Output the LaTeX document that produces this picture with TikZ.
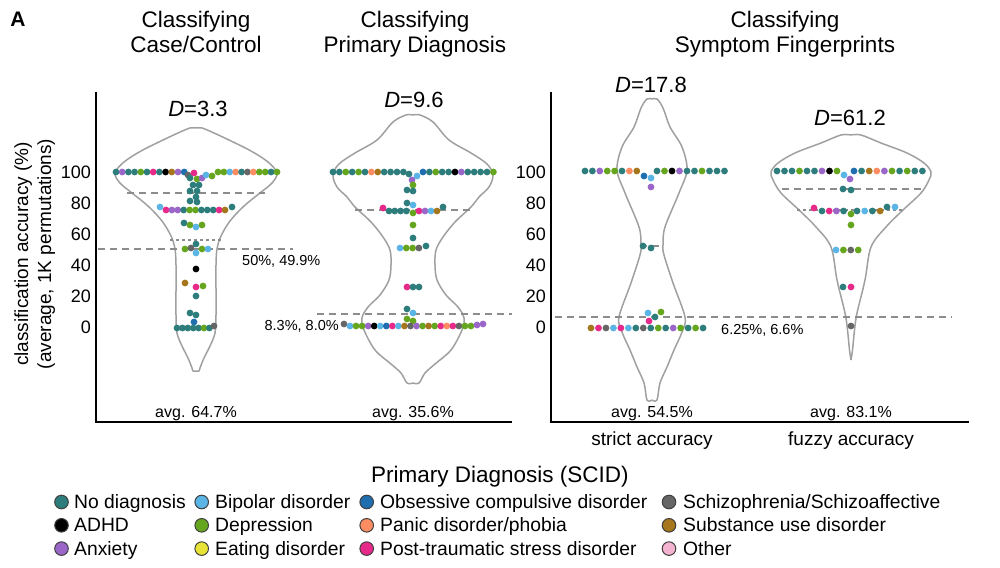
\documentclass[tikz,border=0pt]{standalone}
\usepackage{fontspec}
\setmainfont{Liberation Sans}
\definecolor{ND}{HTML}{2E7D7D}
\definecolor{AD}{HTML}{000000}
\definecolor{AX}{HTML}{9A67C9}
\definecolor{BP}{HTML}{5AB4E5}
\definecolor{DP}{HTML}{66A61E}
\definecolor{EA}{HTML}{E8E337}
\definecolor{OC}{HTML}{1F6EB0}
\definecolor{PN}{HTML}{FC8D62}
\definecolor{PT}{HTML}{E7298A}
\definecolor{SC}{HTML}{666666}
\definecolor{SU}{HTML}{A6761D}
\definecolor{OT}{HTML}{F4B3D0}
\definecolor{vgray}{HTML}{A0A0A0}
\definecolor{dgray}{HTML}{8C8C8C}
\newcommand\fsz[1]{\fontsize{#1}{#1}\selectfont}
\newcommand\drow[4]{\foreach \c [count=\i from 0] in {#4} {\fill[\c] ({#2+\i*#3},#1) circle (3.4pt);}}
\newcommand\dd[3]{\fill[#3] (#1,#2) circle (3.4pt);}
\newcommand\violin[2]{\begin{scope}[shift={(#1,0)}]
\draw[vio] plot[smooth,tension=0.55] coordinates {#2};
\draw[vio,xscale=-1] plot[smooth,tension=0.55] coordinates {#2};
\end{scope}}
\begin{document}
\begin{tikzpicture}[x=1pt,y=-1pt,
  vio/.style={draw=vgray,line width=1.5pt,line join=round},
  dsh/.style={draw=dgray,line width=1.3pt,dash pattern=on 7pt off 5pt},
  dshs/.style={draw=dgray,line width=1.3pt,dash pattern=on 3pt off 3pt},
  axisl/.style={draw=black,line width=2pt},
  ttl/.style={font=\fsz{22.5},anchor=base,inner sep=0pt},
  dlab/.style={font=\fsz{22},anchor=base,inner sep=0pt},
  tick/.style={font=\fsz{18},anchor=east,inner sep=0pt},
  avg/.style={font=\fsz{16},anchor=base,inner sep=0pt},
  chance/.style={font=\fsz{14.5},inner sep=0pt},
  ylab/.style={font=\fsz{19},anchor=base,rotate=90,inner sep=0pt},
  leg/.style={font=\fsz{19.3},anchor=base west,inner sep=0pt},
  legc/.style={draw=black!75,line width=1pt},
]
\useasboundingbox (0,0) rectangle (1000,567);

% panel letter and titles
\node[font=\fsz{21}\bfseries,inner sep=0pt] (A) at (18,19) {A};
\node[ttl] (t1a) at (196,28) {Classifying};
\node[ttl] (t1b) at (196,53) {Case/Control};
\node[ttl] (t2a) at (415,28) {Classifying};
\node[ttl] (t2b) at (415,53) {Primary Diagnosis};
\node[ttl] (t3a) at (785,28) {Classifying};
\node[ttl] (t3b) at (785,53) {Symptom Fingerprints};

% y axis label
\node[ylab] (yl1) at (28,254) {classification accuracy (\%)};
\node[ylab] (yl2) at (51,254) {(average, 1K permutations)};

% axes
\draw[axisl] (96,92) -- (96,422) -- (512,422);
\draw[axisl] (551,92) -- (551,422) -- (969,422);
\foreach \v/\yy in {100/172,80/203,60/234,40/265,20/296,0/327}{
  \node[tick] (tl\v) at (91,\yy) {\v};
  \node[tick] (tr\v) at (546,\yy) {\v};
}

% violins
\violin{196}{(0,128) (6,128) (18,133) (35,141) (55,151) (72,162) (81,173) (76,183) (64,193) (48,206) (34,221) (25,236) (21,249) (20,265) (20,290) (20,315) (19,333) (14,346) (8,358) (4,368) (3,371) (0,371)}
\violin{413}{(0,115) (7,115) (20,122) (36,140) (58,153) (74,164) (80,175) (76,187) (66,197) (58,207) (42,222) (30,237) (23,250) (22,265) (24,280) (33,295) (45,307) (51,318) (49,330) (38,350) (22,364) (12,373) (6,383) (0,383)}
\violin{652}{(0,99) (5,99) (11,108) (18,127) (30,147) (35,170) (27,193) (13,227) (11,245) (12,255) (21,283) (33,317) (30,332) (22,350) (15,367) (8,383) (5,400) (0,400)}
\violin{851}{(0,135) (10,135) (30,143) (56,153) (73,163) (80,172) (78,180) (70,193) (52,210) (35,227) (20,247) (14,280) (6,313) (3.5,330) (1.5,350) (0,360)}

% quartile lines
\draw[dsh] (127,193) -- (265,193);
\draw[dshs] (170,240) -- (222,240);
\draw[dsh] (355,210) -- (470,210);
\draw[dsh] (640,246) -- (664,246);
\draw[dsh] (782,189) -- (922,189);
\draw[dshs] (797,210) -- (903,210);

% chance lines
\draw[dsh] (98,249) -- (293,249);
\draw[dsh] (317,314) -- (512,314);
\draw[dsh] (555,317) -- (952,317);
\node[chance,anchor=base west] (c1) at (242,265) {50\%, 49.9\%};
\node[chance,anchor=base east] (c2) at (339,330) {8.3\%, 8.0\%};
\node[chance,anchor=base west] (c3) at (721,334) {6.25\%, 6.6\%};

% D labels
\node[dlab] (d1) at (198,117) {\textit{D}=3.3};
\node[dlab] (d2) at (414,107) {\textit{D}=9.6};
\node[dlab] (d3) at (651,93) {\textit{D}=17.8};
\node[dlab] (d4) at (850,125) {\textit{D}=61.2};

% avg labels
\node[avg] (a1) at (196,417) {avg. 64.7\%};
\node[avg] (a2) at (413,417) {avg. 35.6\%};
\node[avg] (a3) at (652,417) {avg. 54.5\%};
\node[avg] (a4) at (851,417) {avg. 83.1\%};
\node[font=\fsz{19},anchor=base,inner sep=0pt] (s1) at (652,445) {strict accuracy};
\node[font=\fsz{19},anchor=base,inner sep=0pt] (s2) at (851,445) {fuzzy accuracy};

% ---- dots violin 1
\drow{172}{116}{6.2}{ND,AX,ND,ND,DP,ND,PT,ND,AD,SU,AX,OC}
\dd{188}{175}{SC}
\drow{172}{218}{5.9}{DP,DP,BP,PN,ND,SC,PN,DP,DP,ND,DP}
\dd{212}{176}{DP}
\dd{194}{173}{PT}\dd{190}{178}{ND}\dd{197}{179}{DP}\dd{202}{178}{AX}\dd{206}{175}{BP}
\dd{193}{185}{ND}\dd{199}{185}{ND}\dd{190}{191}{ND}\dd{197}{191}{ND}\dd{196}{197}{ND}\dd{190}{201}{ND}\dd{197}{202}{ND}
\dd{160}{207}{BP}
\drow{210}{166}{5.9}{PT,AX,AX,ND,DP,DP,ND,ND,ND,PT,SU}
\dd{232}{207}{ND}
\dd{184}{223}{ND}\dd{190}{225}{DP}\dd{196}{227}{BP}\dd{202}{225}{DP}
\dd{196}{244}{ND}\dd{185}{249}{DP}\dd{191}{248}{SC}\dd{202}{249}{DP}\dd{208}{249}{BP}\dd{196}{253}{BP}
\dd{196}{269}{AD}
\dd{185}{283}{SU}\dd{196}{287}{PT}\dd{203}{286}{DP}\dd{196}{296}{ND}
\dd{190}{313}{ND}\dd{196}{315}{ND}\dd{194}{322}{OC}
\drow{328}{177}{5.4}{ND,ND,ND,ND,ND,DP,ND}
\dd{214}{326}{SC}

% ---- dots violin 2
\drow{172}{333}{6.4}{ND,ND,DP,ND,DP,ND,PN,SU,ND,ND,ND,ND}
\dd{409}{174}{ND}
\drow{172}{423}{6.4}{OC,ND,DP,ND,ND,AD,AX,ND,ND,ND,ND,DP}
\dd{417}{176}{BP}\dd{412}{180}{AX}\dd{413}{185}{DP}\dd{407}{190}{ND}\dd{413}{191}{ND}
\dd{383}{208}{PT}
\drow{211}{389}{5.8}{ND,ND,ND,ND}
\dd{407}{203}{ND}\dd{413}{205}{BP}\dd{413}{213}{DP}
\drow{211}{419}{6}{PT,AX,BP,SU}
\dd{443}{207}{ND}
\dd{413}{225}{DP}
\dd{413}{238}{ND}
\drow{248}{400}{6.3}{BP,DP,DP,SC}
\dd{426}{246}{ND}
\drow{287}{407}{6}{PT,ND,ND}
\dd{407}{309}{ND}\dd{413}{313}{BP}\dd{407}{319}{DP}\dd{413}{321}{DP}
\dd{344}{324}{SC}
\drow{326}{350}{6.05}{BP,DP,DP,AX,AD,BP,OC,PT,BP,SU,SC,AX,DP,SU,DP,PT,PN,PT,SC,DP}
\dd{471}{326}{DP}\dd{477}{325}{AX}\dd{483}{324}{AX}

% ---- dots violin 3
\drow{171}{585}{7.4}{ND,ND,AX,DP,DP,ND,PN,SU}
\dd{644}{176}{OC}\dd{651}{178}{BP}\dd{651}{187}{AX}
\drow{171}{657}{7.5}{ND,DP,AD,AX,ND,ND,DP,ND,ND,ND}
\dd{643}{246}{ND}\dd{651}{248}{ND}
\dd{648}{313}{BP}\dd{661}{312}{DP}\dd{655}{317}{ND}\dd{649}{321}{PT}
\drow{328}{591}{7.47}{SU,PT,SC,BP,PT,BP,ND,SC,ND,DP,ND,AX,DP,ND,DP,ND}

% ---- dots violin 4
\drow{171}{777}{7.5}{ND,ND,ND,DP,ND,ND,AX,AD,DP}
\dd{844}{175}{BP}\dd{850}{179}{AX}
\drow{171}{854}{7.6}{OC,ND,SU,PN,AX,DP,ND,DP,ND,ND}
\dd{843}{189}{ND}\dd{851}{190}{ND}
\dd{814}{208}{PT}
\drow{211}{822}{7.2}{ND,PT,AX,ND}
\dd{851}{214}{DP}
\drow{211}{857}{7.7}{ND,BP,ND,SU}
\dd{887}{207}{ND}\dd{895}{207}{BP}
\dd{851}{225}{DP}
\drow{250}{836}{7.4}{BP,DP,SC,DP}
\dd{843}{287}{ND}\dd{851}{287}{PT}
\dd{851}{326}{SC}

% ---- legend
\node[font=\fsz{22.5},anchor=base,inner sep=0pt] (legt) at (500,482) {Primary Diagnosis (SCID)};
\foreach \cx/\tx/\col/\row/\lab [count=\k] in {
  61.5/74/ND/0/{No diagnosis}, 61.5/74/AD/1/{ADHD}, 61.5/74/AX/2/{Anxiety},
  201.7/215/BP/0/{Bipolar disorder}, 201.7/215/DP/1/{Depression}, 201.7/215/EA/2/{Eating disorder},
  366.7/380/OC/0/{Obsessive compulsive disorder}, 366.7/380/PN/1/{Panic disorder/phobia}, 366.7/380/PT/2/{Post-traumatic stress disorder},
  669/683/SC/0/{Schizophrenia/Schizoaffective}, 669/683/SU/1/{Substance use disorder}, 669/683/OT/2/{Other}}{
  \draw[legc,fill=\col] (\cx,{502+\row*23.3}) circle (6.8pt);
  \node[leg] (lg\k) at (\tx,{508+\row*23.7}) {\lab};
}
\end{tikzpicture}
\end{document}
